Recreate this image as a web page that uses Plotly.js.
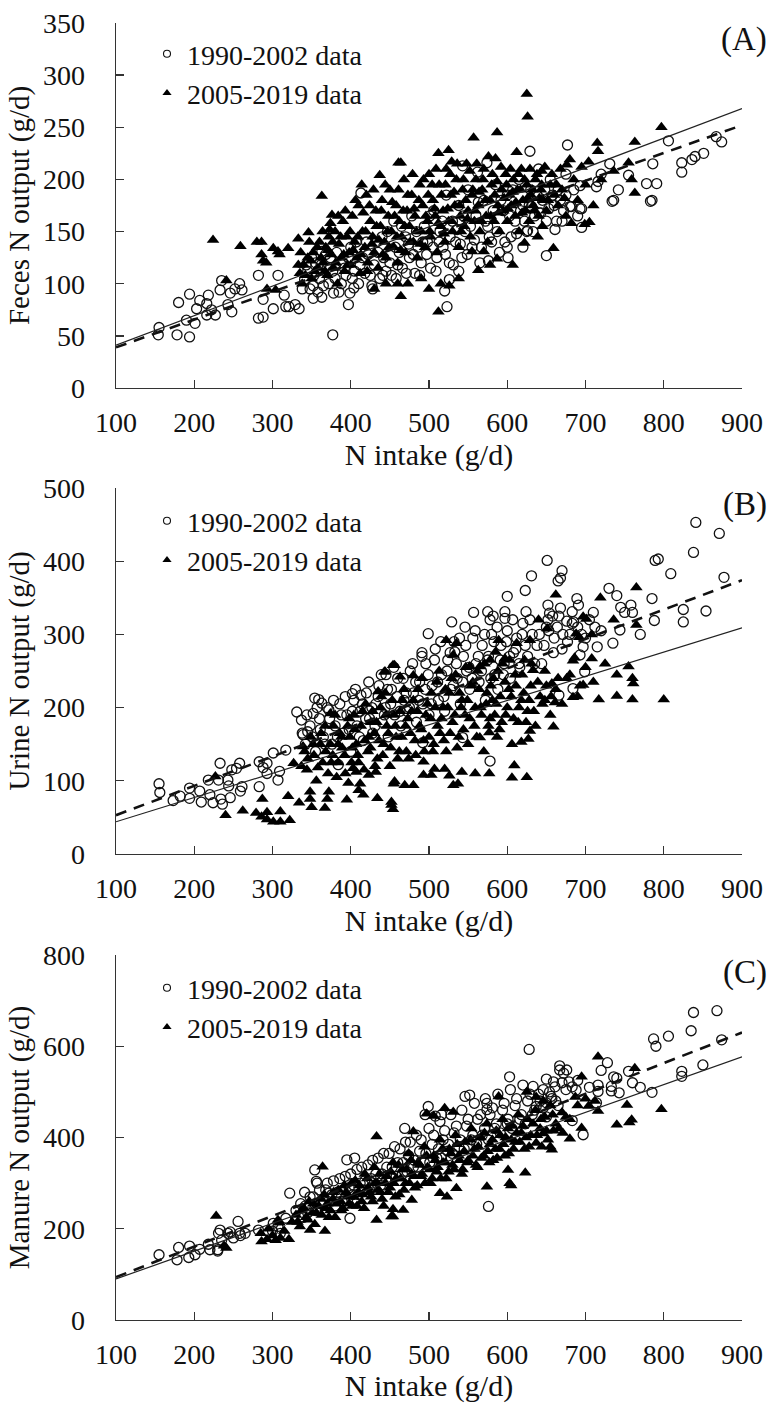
<!DOCTYPE html>
<html>
<head>
<meta charset="utf-8">
<script src="https://cdn.plot.ly/plotly-3.0.1.min.js"></script>
<style>
html,body{margin:0;padding:0;background:#fff;}
#chart{width:775px;height:1403px;}
</style>
</head>
<body>
<div id="chart"></div>
<script>
// ---------- DATA ----------
const xTicks = [100,200,300,400,500,600,700,800,900];
const legendOld = "1990-2002 data";
const legendNew = "2005-2019 data";
const xTitle = "N intake (g/d)";
const yTitles = ["Feces N output (g/d)", "Urine N output (g/d)", "Manure N output (g/d)"];
const panelLabels = ["(A)", "(B)", "(C)"];

// Panel A: feces N output, 1990-2002 (open circles)
const fecesOld = [[154,51],[155,58],[180,82],[178,51],[194,49],[194,90],[190,65],[201,62],[207,84],[203,76],[218,89],[216,81],[216,70],[222,75],[227,70],[233,94],[235,103],[243,80],[248,73],[246,91],[252,95],[258,100],[261,94],[282,108],[282,67],[288,68],[288,85],[301,76],[307,108],[315,89],[317,78],[321,78],[329,80],[334,76],[341,104],[352,98],[352,86],[363,87],[363,131],[377,51],[378,91],[397,80],[399,91],[404,96],[427,98],[413,187],[441,108],
[345,112],[348,95],[355,120],[360,105],[365,98],[370,115],[374,125],[380,105],[385,92],[390,120],[394,108],[400,135],[405,112],[410,100],[415,125],[420,140],[425,108],[430,118],[435,130],[440,145],[445,112],[450,120],[455,160],[458,105],[462,130],[466,115],[470,145],[475,125],[478,165],[482,110],[486,135],[490,120],[494,155],[498,140],[502,115],[506,170],[510,125],[514,150],[518,135],[522,185],[526,120],[530,160],[534,140],[538,175],[542,125],[546,150],[550,190],[555,135],[560,165],[565,120],[570,180],[575,155],[580,140],[585,195],[590,130],[595,170],[600,185],[605,145],[610,160],[615,200],[620,175],[625,150],[630,190],[635,165],[640,210],[645,180],[650,160],[655,200],[660,175],[665,190],[670,160],[675,205],[685,190],[690,165],
[338,95],[343,118],[350,125],[353,108],[358,92],[362,118],[368,128],[372,100],[377,112],[382,130],[388,100],[392,115],[397,125],[402,105],[407,140],[412,118],[418,110],[422,128],[428,95],[433,140],[437,105],[442,125],[447,150],[452,108],[457,135],[460,118],[465,155],[471,110],[474,138],[480,128],[484,150],[488,108],[492,140],[497,128],[501,165],[505,135],[509,112],[513,140],[517,160],[521,128],[527,145],[531,118],[536,152],[540,138],[544,165],[549,128],[553,155],[558,142],[563,178],[567,135],[572,160],[577,145],[582,170],[587,150],[592,180],[597,140],[603,165],[607,190],[612,148],[617,170],[622,160],[628,175],[633,150],[638,185],[643,168],[648,190],[653,172],[658,185],[663,160],[668,180],[672,170],
[523,78],[520,93],[526,104],[538,112],[601,125],[600,135],[576,122],[650,127],[661,152],[695,154],[693,172],[680,174],[734,179],[783,179],[620,135],[626,151],[677,233],[629,227],[543,213],[574,216],[562,207],[806,237],[867,241],[874,236],[851,225],[840,222],[836,219],[823,216],[823,207],[786,215],[778,196],[791,196],[785,180],[731,215],[736,180],[742,190],[755,204],[720,205],[716,198],[714,193],[682,174],[695,172],[693,194],[631,174],[641,168],[675,185]];

// Panel A: feces N output, 2005-2019 (filled triangles)
const fecesNew = [[224,142],[241,103],[259,136],[280,140],[286,140],[286,128],[288,122],[292,120],[293,95],[304,94],[301,134],[307,131],[309,128],[320,134],[333,143],[346,149],[373,152],[376,166],[363,184],[414,195],[437,204],[461,216],[464,216],[464,88],[512,73],[526,98],[538,105],[563,113],[578,118],[587,124],[607,118],[555,131],[570,131],[659,134],[639,145],[645,155],[682,158],[699,157],[705,159],[622,139],[473,100],[460,100],[625,282],[626,260],[557,240],[587,245],[512,225],[525,228],[529,217],[612,226],[644,208],[715,235],[716,227],[704,217],[763,236],[797,250],[755,216],[759,200],[763,187],[736,208],[680,219],[676,214],[695,212],
[335,110],[340,118],[345,125],[350,105],[352,130],[358,115],[360,140],[338,100],[365,120],[368,135],[370,108],[372,145],[375,128],[378,115],[380,150],[383,100],[385,138],[388,125],[390,160],[392,112],[395,145],[398,130],[400,118],
[402,165],[405,140],[408,125],[410,175],[412,110],[415,150],[418,135],[420,185],[422,120],[425,160],[428,145],[430,130],[432,170],[435,115],[438,155],[440,180],[443,140],[445,125],[448,165],[450,190],
[452,150],[455,135],[458,175],[460,120],[462,160],[465,145],[468,200],[470,130],[472,170],[475,155],[478,185],[480,140],[482,165],[485,125],[488,195],[490,150],[492,175],[495,135],[498,160],[500,205],
[502,145],[505,180],[508,165],[510,130],[513,195],[515,155],[518,170],[520,140],[522,210],[525,160],[528,185],[530,150],[533,175],[535,200],[538,135],[540,165],[543,190],[545,155],[548,215],[550,170],
[553,145],[555,185],[558,160],[560,200],[563,175],[565,150],[568,190],[570,210],[573,165],[575,140],[578,180],[580,195],[583,160],[585,220],[588,175],[590,150],[593,190],[595,170],[598,205],[600,160],
[603,185],[605,175],[608,200],[610,165],[613,190],[615,150],[618,210],[620,180],[623,170],[625,195],[628,160],[630,185],[633,175],[636,200],[640,165],[643,190],[646,180],[650,170],[655,195],[660,185],
[665,175],[670,190],[675,165],[685,200],[690,180],[700,195],[710,175],[720,200],[430,95],[445,100],[490,105],[500,95],[515,100],
[333,118],[336,130],[342,108],[347,140],[349,122],[354,112],[357,135],[362,125],[364,150],[367,112],[371,132],[374,158],[377,140],[381,120],[384,165],[387,145],[391,128],[393,170],[396,118],[399,150],[403,132],[406,180],[409,145],[413,128],[416,168],[419,150],[421,112],[424,175],[427,138],[429,190],[433,155],[436,142],[439,170],[441,128],[444,195],[447,150],[449,135],[453,178],[456,165],[459,145],[461,190],[464,132],[467,170],[469,155],[473,185],[476,140],[479,205],[481,172],[484,150],[487,180],[489,138],[493,200],[496,165],[499,185],[501,150],[504,195],[507,172],[509,210],[512,158],[516,185],[519,148],[521,195],[524,172],[527,205],[529,160],[532,188],[536,215],[539,175],[541,150],[544,200],[547,180],[549,162],[552,208],[556,190],[559,170],[561,215],[564,188],[567,160],[569,200],[572,180],[576,222],[579,165],[581,205],[584,185],[587,198],[589,168],[592,212],[596,182],[599,195],[601,172],[604,210],[607,188],[611,178],[614,205],[617,190],[619,168],[622,200],[626,182],[629,210],[632,190],[635,170],[638,205],[641,182],[644,195],[648,212],[652,180],[657,205],[663,195],[668,210],[673,182]];

// Panel B: urine N output, 1990-2002 (open circles)
const urineOld = [[155,96],[156,84],[173,73],[182,79],[194,90],[194,76],[207,86],[209,71],[218,101],[220,81],[224,70],[233,124],[231,101],[234,75],[236,68],[246,77],[244,93],[243,101],[248,115],[258,124],[254,117],[259,86],[261,92],[283,126],[283,92],[288,118],[293,110],[293,124],[301,138],[309,113],[307,101],[317,142],[331,194],[337,183],[352,192],[354,213],[359,211],[363,206],[372,197],[384,122],[339,163],[345,167],[402,219],[413,217],[578,127],[666,217],[684,226],[492,152],[543,159],
[841,453],[871,438],[838,412],[789,401],[793,403],[809,383],[877,378],[651,401],[670,387],[668,377],[665,373],[631,380],[623,360],[600,352],[557,330],[575,331],[582,325],[597,331],[624,331],[652,340],[654,329],[658,325],[668,336],[666,325],[689,349],[691,340],[683,331],[685,317],[730,363],[740,353],[745,337],[758,340],[785,349],[788,319],[825,334],[825,317],[854,332],[744,306],[735,288],[715,283],[697,283],[699,249],[693,272],[529,317],[546,310],[578,320],[597,322],[652,320],[676,318],[499,301],[491,275],[533,276],[445,245],[705,320],[712,310],[750,330],
[342,150],[348,175],[355,140],[360,185],[365,160],[370,200],[376,150],[380,175],[386,205],[390,165],[395,190],[400,140],[404,210],[408,175],[412,195],[416,155],[420,220],[424,185],[428,165],[432,205],[436,230],[440,180],[444,200],[448,160],[452,225],[456,190],[460,240],[464,175],[468,210],[472,195],[476,250],[480,220],[484,180],[488,235],[492,205],[496,260],[500,190],[504,230],[508,280],[512,210],[516,245],[520,195],[524,265],[528,225],[532,290],[536,240],[540,205],[544,270],[548,250],[552,225],[556,295],[560,260],[564,235],[568,285],[572,210],[576,270],[580,300],[584,245],[588,225],[592,285],[596,260],[600,305],[604,240],[608,275],[612,295],[616,255],[620,315],[626,270],[632,300],[638,285],[644,260],[650,310],[660,295],[670,280],[680,300],[690,310],[700,295],[710,330],[720,305],[760,330],[770,300],
[338,165],[344,190],[351,160],[357,200],[361,170],[367,150],[373,185],[378,210],[383,160],[388,190],[393,215],[398,170],[402,195],[406,225],[411,160],[415,205],[419,185],[423,235],[427,200],[431,175],[435,215],[439,245],[443,190],[447,225],[451,205],[455,255],[459,215],[463,195],[467,240],[471,220],[475,200],[479,260],[483,235],[487,210],[491,270],[495,225],[499,245],[503,205],[507,265],[511,235],[515,290],[519,215],[523,250],[527,275],[531,230],[535,260],[539,295],[543,235],[547,285],[551,255],[555,240],[559,305],[563,270],[567,250],[571,300],[575,265],[579,240],[583,290],[587,310],[591,265],[595,245],[599,290],[603,270],[607,320],[611,280],[615,260],[619,300],[623,285],[629,320],[635,260],[641,300],[647,285],[653,305],[659,275],[664,310],[671,300],[677,290],[683,315],[695,300]];

// Panel B: urine N output, 2005-2019 (filled triangles)
const urineNew = [[240,53],[262,59],[279,56],[287,75],[286,51],[293,57],[293,47],[301,44],[310,58],[310,44],[322,46],[320,79],[334,70],[348,85],[348,75],[350,64],[367,63],[370,75],[372,85],[395,74],[397,97],[410,87],[412,96],[416,81],[423,108],[432,112],[434,76],[452,71],[455,96],[407,112],[403,117],[337,120],[327,124],[454,61],[452,67],[469,94],[480,94],[456,99],[493,108],[503,108],[507,116],[520,116],[526,107],[531,94],[537,96],[542,112],[559,110],[577,110],[606,104],[625,105],[609,121],[618,153],[627,157],[629,168],[659,174],[648,210],[661,207],[684,214],[717,211],[740,216],[760,211],[800,211],[697,231],[761,233],[587,160],[577,166],[565,159],
[765,364],[719,350],[662,354],[765,313],[736,320],[697,324],[701,321],[708,300],[688,301],[692,296],[686,268],[684,264],[708,267],[755,256],[760,240],[640,320],[651,308],[629,292],[612,288],[589,292],[585,276],[597,267],[578,265],[565,256],[522,292],[535,288],[531,272],[552,256],[454,258],[443,249],[463,242],[480,244],[633,251],[657,233],[676,240],[693,230],[444,249],[456,258],[493,126],[435,222],[444,220],[339,147],[374,192],[384,150],[227,106],
[345,130],[352,150],[358,118],[362,165],[368,140],[375,125],[378,175],[382,105],[388,160],[392,135],[398,185],[402,145],[405,170],[410,125],[415,195],[418,155],[422,140],[426,180],[430,165],[434,130],[438,200],[442,150],[446,175],[450,120],[455,190],[458,160],[462,140],[466,210],[470,175],[474,130],[478,195],[482,155],[486,225],[490,170],[494,140],[498,205],[502,185],[506,150],[510,235],[514,165],[518,200],[522,140],[526,220],[530,180],[534,245],[538,160],[542,210],[546,190],[550,150],[554,230],[558,175],[562,250],[566,200],[570,140],[574,220],[578,185],[582,240],[586,205],[590,170],[594,260],[598,190],[602,225],[606,150],[610,245],[614,180],[618,210],[622,265],[626,195],[630,230],[636,175],[642,215],[648,250],[655,190],[662,225],[670,205],[680,245],[690,215],[700,255],[710,235],[725,260],[740,245],
[341,140],[344,115],[349,160],[353,135],[356,100],[361,150],[364,125],[367,175],[371,110],[374,150],[377,135],[380,190],[384,125],[386,165],[389,145],[393,110],[396,175],[399,160],[401,125],[404,190],[407,150],[409,135],[413,175],[417,115],[419,205],[423,160],[425,145],[428,195],[431,120],[433,180],[436,155],[439,215],[441,135],[445,190],[448,165],[451,145],[453,210],[457,175],[460,130],[463,195],[465,160],[468,225],[471,140],[473,185],[476,165],[480,210],[483,135],[485,195],[488,175],[491,240],[493,155],[496,190],[500,160],[503,220],[505,140],[508,200],[511,175],[513,250],[516,185],[519,155],[521,225],[524,200],[527,165],[529,240],[533,190],[536,145],[539,220],[541,200],[544,170],[547,255],[549,210],[552,185],[556,235],[559,200],[561,160],[564,225],[567,190],[571,260],[573,205],[576,175],[579,230],[581,210],[584,190],[588,250],[591,215],[593,180],[597,235],[600,200],[603,265],[605,215],[608,185],[611,230],[615,200],[619,245],[621,220],[624,180],[628,210],[631,260],[634,195],[639,235],[645,205],[650,230],[656,215],[665,240]];

// Panel C: manure N output, 1990-2002 (open circles)
const manureOld = [[155,143],[180,159],[178,132],[194,162],[193,137],[201,143],[207,155],[218,166],[220,154],[230,154],[230,151],[233,197],[231,190],[243,190],[246,193],[256,216],[258,190],[259,185],[282,197],[301,212],[307,205],[317,223],[322,278],[354,329],[356,304],[372,278],[395,351],[405,355],[399,223],[576,249],[235,175],[250,180],[265,190],[300,195],[310,190],[340,225],[345,235],[330,240],
[838,674],[868,678],[835,634],[787,616],[790,600],[806,622],[874,614],[850,559],[823,545],[823,534],[785,499],[628,593],[603,533],[728,564],[720,547],[755,545],[667,557],[667,548],[676,548],[672,541],[650,528],[659,522],[661,511],[679,522],[683,511],[688,504],[736,533],[740,530],[733,512],[743,498],[733,502],[716,515],[716,501],[633,512],[646,505],[656,490],[650,476],[637,468],[552,493],[546,490],[574,475],[574,461],[499,468],[495,450],[508,447],[516,450],[469,420],[714,476],[697,406],[683,437],[760,520],[770,510],
[342,250],[348,270],[355,240],[360,285],[366,260],[370,300],[376,275],[380,250],[386,310],[390,285],[396,265],[400,320],[404,295],[410,275],[414,335],[418,305],[424,285],[428,350],[432,320],[438,295],[442,365],[446,335],[452,310],[456,380],[460,345],[466,320],[470,390],[474,360],[480,335],[484,405],[488,370],[494,345],[500,420],[504,385],[510,355],[514,435],[518,395],[524,370],[528,450],[532,410],[538,380],[542,460],[548,425],[554,395],[558,475],[562,440],[568,405],[572,485],[578,450],[584,420],[588,495],[594,460],[600,430],[604,505],[610,470],[616,440],[620,515],[626,480],[632,450],[640,495],[646,465],[654,500],[662,480],[670,520],[690,525],[705,510],
[336,255],[341,280],[346,245],[352,270],[357,300],[362,255],[368,285],[373,265],[378,305],[383,280],[389,260],[393,315],[398,290],[403,275],[408,330],[412,300],[417,285],[422,340],[426,310],[431,295],[435,355],[440,320],[445,305],[449,365],[453,335],[458,315],[463,375],[467,345],[472,325],[476,390],[481,350],[486,335],[490,395],[496,365],[501,345],[506,405],[512,375],[516,355],[520,415],[525,385],[530,365],[535,425],[540,395],[545,375],[550,440],[556,405],[561,385],[566,450],[571,420],[576,395],[581,465],[586,430],[591,410],[596,475],[601,440],[606,420],[612,485],[618,450],[623,430],[629,495],[635,460],[642,480],[650,445],[657,485],[665,470],[675,505]];

// Panel C: manure N output, 2005-2019 (filled triangles)
const manureNew = [[228,228],[241,158],[238,163],[286,172],[293,177],[304,175],[310,180],[321,177],[307,219],[309,213],[348,197],[367,195],[364,336],[433,219],[452,227],[574,292],[603,300],[605,295],[601,329],[623,323],[657,373],[454,227],[467,241],[454,243],[478,263],[523,270],[535,289],[514,278],[716,577],[763,552],[797,462],[753,471],[759,439],[756,433],[740,428],[695,533],[716,458],[695,421],[659,415],[671,410],[680,397],[646,409],[652,395],[637,388],[644,380],[655,380],[589,490],[625,500],[637,489],[646,480],[520,464],[531,456],[506,447],[497,452],[480,413],[687,489],[700,485],[704,469],[433,402],
[285,190],[295,200],[300,185],[315,195],[325,215],[330,230],[335,205],[340,245],[345,220],[352,255],[356,235],[362,265],[368,245],[372,225],[378,280],[382,255],[388,240],[392,295],[396,270],[402,250],[406,305],[410,280],[414,260],[418,320],[422,290],[426,270],[430,335],[434,300],[438,280],[442,250],[446,315],[450,290],[454,345],[458,310],[462,275],[466,330],[470,300],[474,365],[478,320],[482,290],[486,345],[490,315],[494,380],[498,335],[502,300],[506,360],[510,325],[514,395],[518,345],[522,310],[526,375],[530,340],[534,405],[538,360],[542,320],[546,390],[550,350],[554,420],[558,375],[562,335],[566,400],[570,360],[574,430],[578,385],[582,350],[586,415],[590,375],[594,440],[598,400],[602,365],[606,425],[610,390],[614,450],[618,410],[622,375],[626,440],[630,405],[636,460],[642,420],[648,445],[655,470],[662,430],[670,455],[680,440],[690,470],[712,480],
[332,215],[337,240],[343,225],[347,260],[351,235],[354,210],[359,250],[363,230],[366,275],[370,255],[374,240],[377,265],[380,225],[384,285],[387,260],[390,245],[394,280],[398,255],[401,300],[404,270],[408,250],[411,295],[415,275],[417,245],[421,310],[424,280],[428,260],[431,300],[435,285],[437,320],[440,265],[444,300],[448,280],[451,325],[455,300],[457,270],[461,340],[464,310],[468,285],[471,330],[475,300],[477,350],[481,315],[485,295],[488,340],[491,320],[495,300],[497,360],[501,330],[504,310],[508,350],[511,335],[515,310],[517,375],[521,345],[525,325],[528,365],[532,330],[536,385],[539,350],[543,330],[545,370],[549,345],[553,395],[556,360],[560,340],[563,380],[567,355],[571,410],[575,370],[577,345],[581,395],[585,375],[587,355],[591,405],[595,385],[597,360],[601,420],[605,395],[608,375],[612,410],[616,390],[620,425],[624,400],[628,380],[633,430],[638,405],[643,440],[650,415],[658,450],[666,420],[675,445]];

// Fitted lines (end points at N intake 100 and 900)
const lineX = [100, 900];
const fecesFitNew = [41, 268];   // solid
const fecesFitOld = [39, 252];   // dashed
const urineFitNew = [44, 309];
const urineFitOld = [53, 374];
const manureFitNew = [90, 577];
const manureFitOld = [94, 630];

const yRanges = [[0,350],[0,500],[0,800]];
const yDticks = [50,100,200];

// ---------- CHART ----------
const FONT = "Liberation Serif, 'Times New Roman', Times, serif";
const W = 775, H = 1403;
const xDom = [116/W, 742/W];
const panelsPx = [[23,388],[488,854],[955,1320]];
const legendTopPx = [29, 496, 963];

const panels = [
  {old: fecesOld, nw: fecesNew, fitOld: fecesFitOld, fitNew: fecesFitNew},
  {old: urineOld, nw: urineNew, fitOld: urineFitOld, fitNew: urineFitNew},
  {old: manureOld, nw: manureNew, fitOld: manureFitOld, fitNew: manureFitNew}
];

const traces = [];
const layout = {
  width: W, height: H,
  margin: {l:0, r:0, t:0, b:0},
  paper_bgcolor: "#fff", plot_bgcolor: "#fff",
  font: {family: FONT, size: 28, color: "#111"},
  showlegend: true,
  annotations: []
};

panels.forEach((p, i) => {
  const n = i === 0 ? "" : String(i+1);
  const xa = "x" + n, ya = "y" + n;
  const lg = "legend" + n;
  const grp = "g" + i;
  traces.push({
    type: "scatter", mode: "markers", x: p.old.map(d=>d[0]), y: p.old.map(d=>d[1]),
    xaxis: xa, yaxis: ya, name: legendOld, legend: lg, legendgroup: grp + "old", showlegend: false,
    marker: {symbol: "circle-open", size: 10, color: "#111", line: {width: 1.3, color: "#111"}}
  });
  traces.push({
    type: "scatter", mode: "markers", x: p.nw.map(d=>d[0]), y: p.nw.map(d=>d[1]),
    xaxis: xa, yaxis: ya, name: legendNew, legend: lg, legendgroup: grp + "new", showlegend: false,
    marker: {symbol: "triangle-up", size: 11, color: "#000"}
  });
  // legend entries (smaller symbols, as in the reference legend)
  traces.push({
    type: "scatter", mode: "markers", x: [null], y: [null],
    xaxis: xa, yaxis: ya, name: legendOld, legend: lg, legendgroup: grp + "old", showlegend: true,
    marker: {symbol: "circle-open", size: 7, color: "#111", line: {width: 1.1, color: "#111"}}
  });
  traces.push({
    type: "scatter", mode: "markers", x: [null], y: [null],
    xaxis: xa, yaxis: ya, name: legendNew, legend: lg, legendgroup: grp + "new", showlegend: true,
    marker: {symbol: "triangle-up", size: 8, color: "#000"}
  });
  traces.push({
    type: "scatter", mode: "lines", x: lineX, y: p.fitNew, xaxis: xa, yaxis: ya,
    showlegend: false, line: {color: "#222", width: 1.2}
  });
  traces.push({
    type: "scatter", mode: "lines", x: lineX, y: p.fitOld, xaxis: xa, yaxis: ya,
    showlegend: false, line: {color: "#111", width: 2.6, dash: "11px,8px"}
  });

  const top = panelsPx[i][0], bot = panelsPx[i][1];
  layout["xaxis" + n] = {
    domain: xDom, anchor: ya, range: [100, 900], tickvals: xTicks,
    ticks: "inside", ticklen: 8, tickwidth: 1.3, tickcolor: "#333",
    showline: true, linecolor: "#333", linewidth: 1.3,
    showgrid: false, zeroline: false, ticklabelstandoff: 9,
    tickfont: {family: FONT, size: 28, color: "#111"},
    title: {text: xTitle, standoff: 6, font: {family: FONT, size: 30, color: "#111"}}
  };
  layout["yaxis" + n] = {
    domain: [1 - bot/H, 1 - top/H], anchor: xa, range: yRanges[i], dtick: yDticks[i], tick0: 0,
    ticks: "inside", ticklen: 8, tickwidth: 1.3, tickcolor: "#333",
    showline: true, linecolor: "#333", linewidth: 1.3,
    showgrid: false, zeroline: false, ticklabelstandoff: 24,
    tickfont: {family: FONT, size: 28, color: "#111"},
    title: {text: yTitles[i], standoff: 5, font: {family: FONT, size: 29, color: "#111"}}
  };
  layout[lg] = {
    x: 147/W, xanchor: "left", y: 1 - legendTopPx[i]/H, yanchor: "top",
    bgcolor: "rgba(0,0,0,0)", borderwidth: 0,
    font: {family: FONT, size: 28, color: "#111"},
    tracegroupgap: 0, itemsizing: "trace", traceorder: "normal"
  };
  layout.annotations.push({
    xref: "paper", yref: "paper", x: 769/W, xanchor: "right",
    y: 1 - ((top + 17)/H), yanchor: "middle", showarrow: false,
    text: panelLabels[i], font: {family: FONT, size: 33, color: "#111"}
  });
});

Plotly.newPlot("chart", traces, layout, {displayModeBar: false, staticPlot: true});
</script>
</body>
</html>
